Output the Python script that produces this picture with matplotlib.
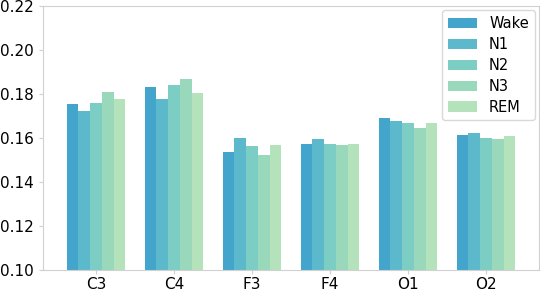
import numpy as np
import matplotlib
matplotlib.use("Agg")
from matplotlib import pyplot as plt

channels = ["C3", "C4", "F3", "F4", "O1", "O2"]
stages = ["Wake", "N1", "N2", "N3", "REM"]
wake = [0.1756, 0.1832, 0.1537, 0.1574, 0.1689, 0.1612]
n1 = [0.1725, 0.1779, 0.1598, 0.1597, 0.1678, 0.1624]
n2 = [0.1759, 0.1840, 0.1565, 0.1571, 0.1667, 0.1598]
n3 = [0.1808, 0.1869, 0.1521, 0.1567, 0.1647, 0.1594]
rem = [0.1779, 0.1805, 0.1567, 0.1575, 0.1666, 0.1609]
colors = ["#43a5cc", "#5cb9cc", "#7ccdc4", "#99d8ba", "#b4e2bb"]

fig = plt.figure(figsize=(5.4, 2.92), dpi=100)
ax = fig.add_axes([43 / 540, 22 / 292, 496 / 540, 264 / 292])

x = np.arange(len(channels))
w = 0.15
for i, (name, vals) in enumerate(zip(stages, [wake, n1, n2, n3, rem])):
    ax.bar(x + (i - 2) * w, vals, w, color=colors[i], label=name)

ax.set_ylim(0.10, 0.22)
ax.set_xlim(-0.68, 5.68)
ax.set_xticks(x)
ax.set_xticklabels(channels, fontsize=11)
yt = np.arange(0.10, 0.221, 0.02)
ax.set_yticks(yt)
ax.set_yticklabels(["%.2f" % v for v in yt], fontsize=11)
for s in ax.spines.values():
    s.set_color("#d0d0d0")
ax.tick_params(color="#d0d0d0", length=3)
ax.tick_params(axis="x", pad=2)
leg = ax.legend(loc="upper right", fontsize=10.5, frameon=True, fancybox=True,
                borderaxespad=0.3, handlelength=2.0, labelspacing=0.4)
leg.get_frame().set_edgecolor("#d0d0d0")

fig.savefig("out.png", dpi=100)
